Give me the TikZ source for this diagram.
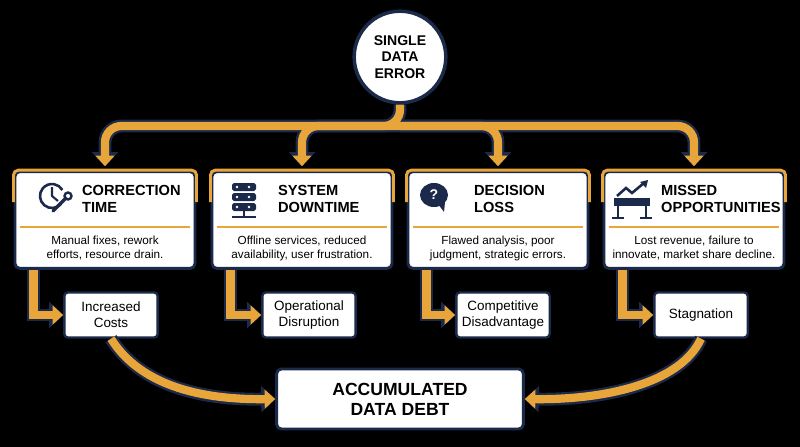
\documentclass[tikz,border=0pt]{standalone}
\usepackage{fontspec}
\setmainfont{Liberation Sans}
\usetikzlibrary{arrows.meta,positioning,calc}
\definecolor{navy}{HTML}{1B2A4A}
\definecolor{gold}{HTML}{E8A53A}
\tikzset{
  card/.style={draw=navy,line width=2.5pt,fill=white,rounded corners=4pt,minimum width=5.4cm,minimum height=2.9cm},
  small/.style={draw=navy,line width=2pt,fill=white,rounded corners=3pt,minimum width=2.8cm,minimum height=1.35cm,align=center,font=\fontsize{11.5}{13.5}\selectfont},
  head/.style={font=\bfseries\fontsize{12.5}{14.5}\selectfont,align=left,anchor=west,text=black},
  desc/.style={font=\fontsize{10}{12}\selectfont,align=center,text=black},
  flowout/.style={navy,line width=11pt,-{Triangle[width=22pt,length=12pt]}},
  flowin/.style={gold,line width=7pt,-{Triangle[width=16pt,length=9pt]}}
}
\begin{document}
\begin{tikzpicture}[x=0.03cm,y=-0.03cm]
\fill[black] (0,0) rectangle (800,447);
% source
\node[circle,draw=navy,line width=3pt,fill=white,minimum size=2.75cm,align=center,
  font=\bfseries\fontsize{12}{14}\selectfont] (err) at (400,57) {SINGLE\\DATA\\ERROR};
% cards
\foreach \n/\x in {c1/105,c2/302,c3/498,c4/694}
  \node[card] (\n) at (\x,220) {};
\foreach \n in {c1,c2,c3,c4}{
  \draw[gold,line width=2.5pt,rounded corners=4pt] ($(\n.west)+(0,-18)$) |- (\n.north) -| ($(\n.east)+(0,-18)$);
  \draw[gold,line width=2pt] ($(\n.west)+(6,7)$) -- ($(\n.east)+(-6,7)$);
}
\node[head] at (78,199) {CORRECTION\\TIME};
\node[head] at (274,199) {SYSTEM\\DOWNTIME};
\node[head] at (470,199) {DECISION\\LOSS};
\node[head] at (657,199) {MISSED\\OPPORTUNITIES};
\node[desc] at (105,248) {Manual fixes, rework\\efforts, resource drain.};
\node[desc] at (302,248) {Offline services, reduced\\availability, user frustration.};
\node[desc] at (498,248) {Flawed analysis, poor\\judgment, strategic errors.};
\node[desc] at (694,248) {Lost revenue, failure to\\innovate, market share decline.};
% icons
\draw[navy,line width=2.2pt] (52,196) ++(40:12) arc (40:330:12);
\draw[navy,line width=1.8pt] (52,187) -- (52,196) -- (58,201);
\draw[navy,line width=3pt,line cap=round] (53,211) -- (66,198);
\draw[navy,line width=2pt] (68,196) circle (3.5);
\foreach \y in {187,197,207}{
  \fill[navy,rounded corners=1.5pt] (232,\y-4) rectangle (256,\y+4);
  \fill[white] (237,\y) circle (1.3) (249,\y) circle (1.3);}
\draw[navy,line width=1.5pt] (244,211) -- (244,217) (232,217) -- (256,217);
\fill[navy] (434,195) ellipse (14 and 12);
\fill[navy] (438,204) -- (444,212) -- (445,202) -- cycle;
\node[white,font=\bfseries\fontsize{12}{12}\selectfont] at (434,195) {?};
\draw[navy,line width=2.2pt] (617,196) -- (626,188) -- (632,193) -- (644,183);
\fill[navy] (648,180) -- (640,182) -- (646,188) -- cycle;
\fill[navy] (614,198) rectangle (650,206);
\draw[navy,line width=2pt] (618,206) -- (618,218) (646,206) -- (646,218) (612,218)--(624,218) (640,218)--(652,218);
% small outcomes
\node[small] (o1) at (111,315) {Increased\\Costs};
\node[small] (o2) at (309,315) {Operational\\Disruption};
\node[small] (o3) at (503,315) {Competitive\\Disadvantage};
\node[small] (o4) at (701,315) {Stagnation};
\node[draw=navy,line width=2.5pt,fill=white,rounded corners=4pt,minimum width=7.4cm,minimum height=1.8cm,align=center,
  font=\bfseries\fontsize{15}{17}\selectfont] (debt) at (400,399) {ACCUMULATED\\DATA DEBT};
% branch arrows
\coordinate (hub) at (400,126);
\foreach \s in {flowout,flowin}{
  \draw[\s,rounded corners=14pt] (err.south) -- (hub) -| ($(c1.north)+(0,-4)$);
  \draw[\s,rounded corners=14pt] (hub) -| ($(c2.north)+(0,-4)$);
  \draw[\s,rounded corners=14pt] (hub) -| ($(c3.north)+(0,-4)$);
  \draw[\s,rounded corners=14pt] (hub) -| ($(c4.north)+(0,-4)$);
  \foreach \c/\o in {c1/o1,c2/o2,c3/o3,c4/o4}
    \draw[\s] ($(\c.south west)+(20,0)$) |- (\o.west);
  \draw[\s] (o1.south) .. controls (140,385) and (200,400) .. (debt.west);
  \draw[\s] (o4.south) .. controls (680,385) and (600,400) .. (debt.east);
}
\end{tikzpicture}
\end{document}
